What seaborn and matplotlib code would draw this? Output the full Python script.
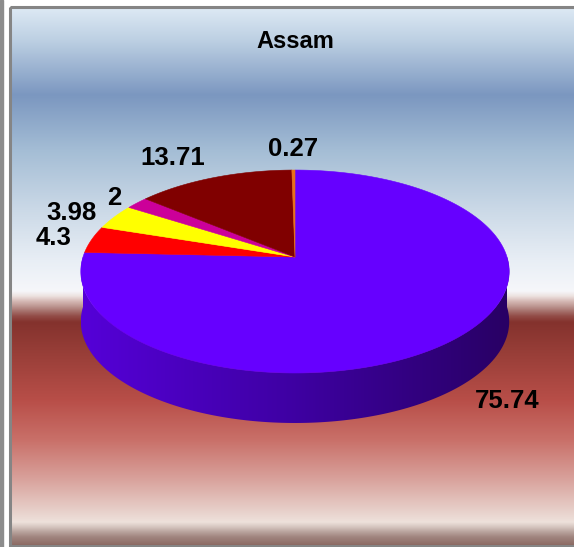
import numpy as np
import seaborn as sns
import matplotlib.pyplot as plt
from matplotlib.patches import Polygon, Rectangle

# -----------------------------
# Data (Assam, %)
# -----------------------------
values = [75.74, 4.3, 3.98, 2, 13.71, 0.27]
labels = [f"{v:g}" for v in values]
slice_colors = ['#6600FF', '#FF0000', '#FFFF00', '#CC0099', '#800000', '#E8701A']
title = 'Assam'

# -----------------------------
# Geometry of the 3D pie (pixel space)
# -----------------------------
cx, cy = 295, 257       # apex of the slices
R, H = 212, 99.4        # half width / half height of the top face
k = 0.143               # perspective factor
depth = 50              # side thickness

sns.set_style('white')
plt.rcParams['font.family'] = ['Liberation Sans', 'DejaVu Sans']


def proj(theta, r=1.0, dy=0.0):
    u, v = np.cos(theta), np.sin(theta)
    s = 1.0 / (1.0 + k * v)
    return cx + R * r * u * s, cy - H * r * v * s + dy


fig = plt.figure(figsize=(5.74, 5.47), dpi=100)
ax = fig.add_axes([0, 0, 1, 1])
ax.set_xlim(0, 574)
ax.set_ylim(547, 0)
ax.axis('off')

# -----------------------------
# Background panel
# -----------------------------
stops_y = [8, 40, 95, 150, 210, 260, 291, 296, 301, 306, 311, 316, 322,
           350, 400, 440, 480, 512, 522, 527, 532, 537, 545]
stops_c = ['#DDE9F4', '#BDD0E3', '#7B97C0', '#A4BDD5', '#CBD9E7', '#E8EEF5', '#F6F7FA',
           '#EDE2E0', '#D6BAB6', '#BE9893', '#A6726D', '#934D48', '#84322D',
           '#963D37', '#B84E48', '#C97069', '#D9A39D', '#E8D2CC', '#EEE1DB',
           '#D5C5BF', '#B8A29C', '#A0857F', '#8C6A63']
rgb = np.array([sns.color_palette([c])[0] for c in stops_c])
rows = np.arange(8, 547) + 0.5
grad = np.stack([np.interp(rows, stops_y, rgb[:, i]) for i in range(3)], axis=-1)
grad = np.repeat(grad[:, None, :], 2, axis=1)
ax.imshow(grad, extent=[11, 574, 547, 8], aspect='auto', interpolation='nearest', zorder=0)

# frame and side strip
ax.add_patch(Rectangle((0, 0), 3, 547, color='#8C8C8C', zorder=1))
ax.add_patch(Rectangle((9.5, 6.5), 600, 539, fill=False, ec='#858585', lw=2.2, zorder=1))

# -----------------------------
# Slice angles (clockwise from 12 o'clock)
# -----------------------------
fracs = np.array(values) / sum(values)
ends = np.pi / 2 - 2 * np.pi * np.cumsum(fracs)
starts = np.concatenate([[np.pi / 2], ends[:-1]])

# side wall (front half)
t = np.linspace(np.pi, 2 * np.pi, 200)
tx, ty = proj(t)
bx, by = proj(t[::-1], dy=depth)
side = Polygon(np.column_stack([np.r_[tx, bx], np.r_[ty, by]]), closed=True,
               fc='none', ec='none', zorder=2)
ax.add_patch(side)
side_cmap = sns.blend_palette(['#5500D8', '#3E00A2', '#280064'], as_cmap=True)
img = ax.imshow(np.linspace(0, 1, 256)[None, :], cmap=side_cmap,
                extent=[tx.min(), tx.max(), by.max(), ty.min()],
                aspect='auto', zorder=2)
img.set_clip_path(side)

# top face
for a0, a1, col in zip(starts, ends, slice_colors):
    tt = np.linspace(a0, a1, max(int(abs(a1 - a0) * 80), 4))
    px, py = proj(tt)
    ax.fill(np.r_[cx, px], np.r_[cy, py], color=col, lw=0.4, ec=col, zorder=3)

# labels
for a0, a1, lab in zip(starts, ends, labels):
    mid = (a0 + a1) / 2
    u, v = np.cos(mid), np.sin(mid)
    x, y = proj(mid, r=1.1)
    ha = 'center' if abs(u) < 0.2 else ('right' if u < 0 else 'left')
    if v > 0.7:
        va = 'bottom'
    elif v < -0.7:
        va, y = 'top', y + depth - 6
    else:
        va = 'center'
    ax.text(x, y, lab, ha=ha, va=va, fontsize=18.5, fontweight='bold',
            color='black', zorder=4)

ax.text(cx, 41, title, ha='center', va='center', fontsize=17, fontweight='bold',
        color='black', zorder=4)

fig.savefig('out.png', dpi=100)
